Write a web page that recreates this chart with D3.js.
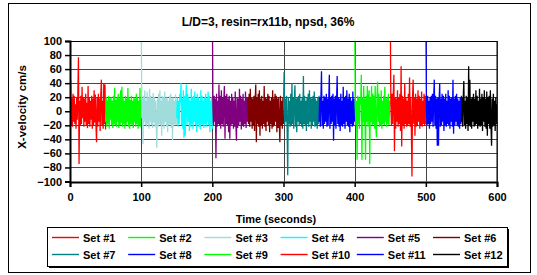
<!DOCTYPE html>
<html>
<head>
<meta charset="utf-8">
<script src="https://cdn.jsdelivr.net/npm/d3@7"></script>
<style>
  body { margin: 0; background: #fff; }
  text { font-family: "Liberation Sans", Arial, sans-serif; font-weight: bold; }
</style>
</head>
<body>
<div id="chart"></div>
<script>
////////////////////////////////////////////////////////////////
// Data: 12 sets of 50 seconds each

let setNames = ["Set #1", "Set #2", "Set #3", "Set #4", "Set #5", "Set #6",
  "Set #7", "Set #8", "Set #9", "Set #10", "Set #11", "Set #12"];
let setColors = ["#ff0000", "#00ff00", "#a0dcdc", "#00ffff", "#800080", "#800000",
  "#008080", "#0000ff", "#00ff00", "#ff0000", "#0000ff", "#000000"];
let setStarts = [0, 50, 100, 150, 200, 250, 300, 350, 400, 450, 500, 550];
let setLength = 50;

let set1 = [5, 45, -20, 18, -22, 25, -15, 22, -18, 10, -25, 20, -12, 24, 77, -75, 15, -20, 22, -18, 35, -10, 20, -22, 18, -15, 25, -20, 12, -24, 36, -18, 20, -22, 15, -12, 22, -25, 18, -20, 30, -16, 24, -18, -44, 20, -22, 25, -15, 18, -28, 22, 45, -20, 15, -25, 40, -18, 38, -26];
let set2 = [-15, 20, -22, 15, -18, 22, -25, 18, -12, 20, -20, 15, -24, 22, -18, 33, -20, 16, -22, 20, -15, 25, -24, 18, -20, 30, -16, 35, -22, 20, -18, 15, -25, 22, -20, 18, -15, 33, -22, 20, -25, 16, -18, 22, -20, 15, -24, 20, -16, 18, -22, 25, -18, 20, -25, 15, -20, 33, -22, 18];
let set3 = [160, -10, 18, -47, 22, -15, 30, -20, 15, -22, 28, -18, 20, -25, 32, -15, 22, -20, 18, -24, 26, -16, 20, -22, 15, -20, -52, 18, -22, 25, -18, 30, -20, 15, -35, 22, -18, 20, -25, 28, -15, 18, -22, 20, -30, 15, -20, 22, -18, 25, -24, 18, -41, 20, -22, 15, -18, 24, -20, 15];
let set4 = [-10, 20, -22, 15, -18, 25, 12, 40, -20, 18, -25, 30, -38, 22, -35, 18, 38, -20, 25, -15, 20, -28, 15, -22, 32, -18, 20, -25, 22, -15, 28, -20, 18, -30, 25, -18, 20, -22, 15, -26, 30, -18, 22, -20, 15, -24, 20, -18, 25, -22, 18, -15, 28, -20, 22, -30, 15, -18, 20, -25];
let set5 = [150, 10, -20, 22, -15, 18, -67, 25, -22, 15, -18, 38, -20, 22, -25, 30, -18, 20, -22, 15, 36, -39, 22, -18, 25, -20, 18, -30, 22, -39, 15, -20, 25, -18, 20, -25, 15, -22, 28, -18, -42, 20, -24, 18, -20, 32, -15, 22, -26, 18, -20, 25, -22, 15, -18, 28, -24, 20, -15, 18];
let set6 = [20, -18, 25, -22, 32, -15, 20, -25, 18, -20, 22, -28, 15, 38, -44, 20, -18, 25, -22, 30, -35, 18, -20, 22, -25, 15, -18, 36, -22, 20, -28, 18, -15, 25, -20, 22, -30, 15, -18, 20, -25, 30, -22, 18, -20, 25, -15, 22, -30, 18, -24, 20, -18, -44, 22, -20, 15, -25, 20, -18];
let set7 = [10, 56, -20, 18, -15, 22, -25, -91, 20, -18, 15, -22, 25, -20, 40, -18, 20, -25, 15, 37, -22, 18, -30, 20, -15, 22, -20, 25, -18, 15, -22, 20, -25, 50, -18, 22, -20, 15, -28, 20, -18, 25, -22, 30, -15, 20, -25, 18, -20, 22, -15, 28, -22, 18, -20, 15, -25, 20, -18, 22];
let set8 = [-15, 20, -22, 18, 57, -20, 15, -25, 22, -18, 20, -15, 25, -22, 18, -20, 15, 52, -25, 20, -18, 22, -15, 25, -42, 18, -20, 22, -25, 15, 50, -18, 20, -22, 18, -28, 25, -20, 15, -22, 35, -18, 20, -25, 22, -15, 30, -20, 18, -22, 25, -30, 20, -18, 15, -22, 28, -20, 18, -15];
let set9 = [150, 5, -20, 15, -69, 22, -18, 20, -25, 18, 10, 52, -69, 20, -15, 36, -20, 18, -69, 22, -15, 36, -22, 18, 30, -75, 20, -15, 36, -20, 25, -18, 22, -25, 36, -20, -37, 18, 42, -15, 25, -22, 18, -20, 30, -25, 15, -18, 22, -20, 35, -15, 18, -22, 20, -18, 25, -20, 15, 10];
let set10 = [150, 10, -20, 25, -18, 22, 52, -57, 20, -25, 18, -15, 30, -22, 20, -18, 25, -28, 64, -50, 22, -20, 18, -25, 40, -18, 20, -22, 15, -20, 25, -18, 48, -22, 20, -25, -93, 22, 45, -18, 20, -35, 25, -22, 18, -20, 30, -15, 22, -25, 18, -20, 28, -22, 15, -18, 25, -20, 22, -18];
let set11 = [150, 5, -20, 22, -18, 15, -25, 20, -18, 22, -15, 25, -22, 18, 45, -20, 22, -25, 18, -49, 20, -49, 15, 40, -22, 18, -20, 25, -15, 22, -28, 18, -20, 25, -22, 15, -18, 30, -20, 22, -25, 18, -15, 20, -22, 45, -32, 18, -20, 22, -15, 25, -20, 18, -22, 15, -25, 20, -18, 22];
let set12 = [-15, 20, -22, 18, 43, -20, 15, -25, 22, -18, 20, -28, 64, -20, 45, -22, 18, -25, 20, -15, 25, -22, 18, -20, 30, -18, 22, -25, 15, -20, 32, -22, 18, -20, 25, -28, 20, -15, 30, -22, 18, -25, 28, -35, 20, -18, 22, -25, 30, -20, -49, 18, -22, 25, -20, 15, -28, 20, -18, 10];

let allSets = [set1, set2, set3, set4, set5, set6, set7, set8, set9, set10, set11, set12];

let xTicks = [0, 100, 200, 300, 400, 500, 600];
let yTicks = [-100, -80, -60, -40, -20, 0, 20, 40, 60, 80, 100];

////////////////////////////////////////////////////////////////
// Setup

let W = 537, H = 275;
let pLeft = 70, pRight = 497, pTop = 41, pBottom = 181.5;

let svg = d3.select("#chart").append("svg")
  .attr("width", W)
  .attr("height", H)

// chart area border
svg.append("rect")
  .attr("x", 8.5).attr("y", 3.5)
  .attr("width", 522).attr("height", 269)
  .attr("fill", "white")
  .attr("stroke", "black")
  .attr("stroke-width", 1)

let x = d3.scaleLinear().domain([0, 600]).range([pLeft, pRight]);
let y = d3.scaleLinear().domain([-100, 100]).range([pBottom, pTop]);

// gridlines
svg.append("g")
  .selectAll("line")
  .data(yTicks)
  .enter().append("line")
  .attr("x1", pLeft).attr("x2", pRight)
  .attr("y1", d => Math.round(y(d)) + 0.5)
  .attr("y2", d => Math.round(y(d)) + 0.5)
  .attr("stroke", "#444")
  .attr("stroke-width", 1)

svg.append("g")
  .selectAll("line")
  .data(xTicks)
  .enter().append("line")
  .attr("y1", pTop).attr("y2", pBottom)
  .attr("x1", d => Math.round(x(d)) + 0.5)
  .attr("x2", d => Math.round(x(d)) + 0.5)
  .attr("stroke", "#444")
  .attr("stroke-width", 1)

// clip to plot area
svg.append("clipPath").attr("id", "plotclip")
  .append("rect")
  .attr("x", pLeft).attr("y", pTop)
  .attr("width", pRight - pLeft).attr("height", pBottom - pTop)

// series
let line = d3.line()
  .x(d => x(d[0]))
  .y(d => y(d[1]));

let series = allSets.map((vals, k) => vals.map((v, i) =>
  [setStarts[k] + i * setLength / (vals.length - 1), v]));

svg.append("g")
  .attr("clip-path", "url(#plotclip)")
  .selectAll("path")
  .data(series)
  .enter().append("path")
  .attr("d", d => line(d))
  .attr("fill", "none")
  .attr("stroke", (d, i) => setColors[i])
  .attr("stroke-width", 1.3)

// plot border
svg.append("rect")
  .attr("x", pLeft + 0.5).attr("y", Math.round(pTop) + 0.5)
  .attr("width", pRight - pLeft - 0.5).attr("height", Math.round(pBottom) - Math.round(pTop))
  .attr("fill", "none")
  .attr("stroke", "black")
  .attr("stroke-width", 1)

// axes
let yAxis = svg.append("g")
  .attr("transform", `translate(${pLeft},0)`)
  .call(d3.axisLeft(y).tickValues(yTicks).tickSize(5).tickPadding(3))
yAxis.select(".domain").attr("stroke-width", 2)
yAxis.selectAll("text").attr("font-size", 11).attr("fill", "black")

let xAxis = svg.append("g")
  .attr("transform", `translate(0,${Math.round(pBottom)})`)
  .call(d3.axisBottom(x).tickValues(xTicks).tickSize(5).tickPadding(6))
xAxis.select(".domain").attr("stroke-width", 2)
xAxis.selectAll("text").attr("font-size", 11).attr("fill", "black")
svg.selectAll(".tick line").attr("stroke-width", 1.5)

// titles
svg.append("text")
  .attr("x", 268).attr("y", 26)
  .attr("text-anchor", "middle")
  .attr("font-size", 12)
  .text("L/D=3, resin=rx11b, npsd, 36%")

svg.append("text")
  .attr("x", 276).attr("y", 223)
  .attr("text-anchor", "middle")
  .attr("font-size", 11)
  .text("Time (seconds)")

svg.append("text")
  .attr("transform", "translate(26,107) rotate(-90)")
  .attr("text-anchor", "middle")
  .attr("font-size", 11.5)
  .text("X-velocity cm/s")

////////////////////////////////////////////////////////////////
// Legend

let lgX = 47, lgY = 227, lgW = 460, lgH = 39;

svg.append("rect")
  .attr("x", lgX + 2).attr("y", lgY + 2)
  .attr("width", lgW).attr("height", lgH)
  .attr("fill", "black")

svg.append("rect")
  .attr("x", lgX + 0.5).attr("y", lgY + 0.5)
  .attr("width", lgW).attr("height", lgH)
  .attr("fill", "white")
  .attr("stroke", "black")

let legendData = setNames.map((name, i) => ({ name: name, color: setColors[i], idx: i }));

let items = svg.append("g")
  .selectAll("g")
  .data(legendData)
  .enter().append("g")
  .attr("transform", d =>
    `translate(${52 + (d.idx % 6) * 76.2},${d.idx < 6 ? 237 : 254})`)

items.append("rect")
  .attr("x", 0).attr("y", -0.2)
  .attr("width", 27).attr("height", 1.4)
  .attr("fill", d => d.color)

items.append("text")
  .attr("x", 31).attr("y", 4.5)
  .attr("font-size", 11)
  .text(d => d.name)
</script>
</body>
</html>
